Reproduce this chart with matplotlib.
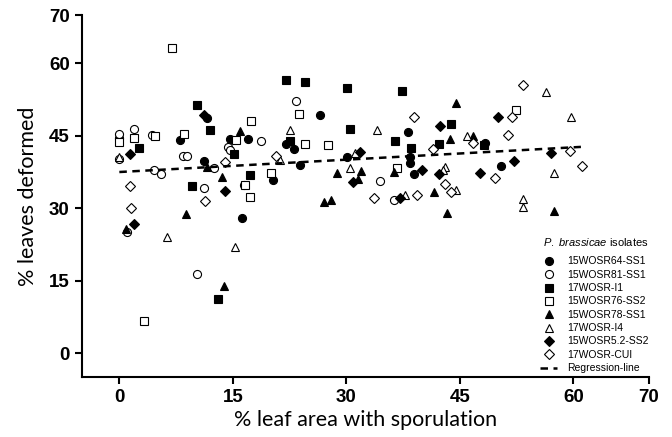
import matplotlib.pyplot as plt

plt.rcParams['mathtext.fontset'] = 'custom'
plt.rcParams['mathtext.it'] = 'Liberation Sans:italic'
plt.rcParams['mathtext.rm'] = 'Liberation Sans'

# values (x = % leaf area with sporulation, y = % leaves deformed)
ss64_x = [0, 8.0, 11.6, 14.6, 17.0, 22.0, 23.1, 11.2, 20.3, 16.2, 26.5, 38.1, 23.9, 30.1, 38.4, 38.4, 39.0, 48.3, 50.4]
ss64_y = [44.5, 44.1, 48.6, 44.3, 44.3, 43.4, 42.2, 39.8, 35.8, 27.9, 49.3, 45.7, 39.0, 40.7, 40.6, 39.4, 37.1, 43.5, 38.8]

ss81_x = [0, 0, 1.9, 4.3, 18.7, 14.4, 14.6, 8.4, 9.0, 4.6, 5.5, 12.5, 11.2, 16.5, 1.0, 10.2, 23.4, 34.4, 36.3]
ss81_y = [45.3, 40.1, 46.5, 45.1, 44.0, 42.7, 42.0, 40.8, 40.8, 37.9, 37.0, 38.4, 34.1, 34.8, 25.0, 16.4, 52.2, 35.7, 31.7]

i1_x = [10.3, 12.0, 22.0, 15.2, 2.6, 17.3, 9.6, 13.0, 24.6, 30.1, 37.4, 30.5, 43.8, 22.6, 36.4, 42.3, 38.6, 48.2]
i1_y = [51.3, 46.2, 56.5, 41.3, 42.4, 36.9, 34.6, 11.3, 56.2, 54.9, 54.3, 46.5, 47.4, 44.0, 44.0, 43.4, 42.4, 43.1]

ss76_x = [7.0, 17.4, 0, 1.9, 4.7, 8.5, 15.4, 20.1, 16.6, 17.3, 3.2, 23.7, 24.6, 27.6, 36.7, 52.4]
ss76_y = [63.1, 48.0, 43.7, 44.6, 44.9, 45.3, 44.1, 37.4, 34.8, 32.4, 6.6, 49.6, 43.4, 43.1, 38.4, 50.3]

ss78_x = [16.0, 11.6, 13.6, 8.8, 0.9, 13.8, 44.5, 43.7, 28.8, 31.9, 36.3, 31.5, 41.6, 27.1, 28.0, 43.3, 46.7, 57.5]
ss78_y = [46.0, 38.6, 36.5, 28.9, 25.6, 13.9, 51.7, 44.4, 37.3, 37.7, 37.5, 36.1, 33.4, 31.2, 31.7, 29.0, 44.9, 29.5]

i4_x = [0, 21.2, 22.6, 6.3, 15.3, 34.1, 31.1, 30.5, 43.1, 42.8, 37.8, 44.5, 56.4, 59.7, 46.0, 57.5, 53.4, 53.4]
i4_y = [40.6, 40.0, 46.3, 24.1, 21.9, 46.3, 41.4, 38.4, 38.6, 37.9, 32.7, 33.7, 54.1, 48.9, 44.9, 37.4, 31.9, 30.2]

ss52_x = [11.2, 1.4, 13.9, 1.9, 42.4, 31.8, 40.0, 42.3, 30.9, 37.1, 50.0, 57.1, 52.1, 47.6]
ss52_y = [49.4, 41.3, 33.6, 26.8, 47.0, 41.7, 38.0, 37.1, 35.5, 32.2, 48.9, 41.5, 39.8, 37.4]

cui_x = [13.9, 20.7, 1.4, 11.3, 1.6, 39.0, 41.4, 43.1, 43.8, 33.6, 39.4, 53.4, 51.9, 51.4, 46.7, 59.5, 61.2, 49.6]
cui_y = [39.5, 40.8, 34.6, 31.5, 30.0, 48.9, 42.2, 35.1, 33.3, 32.2, 32.7, 55.6, 48.9, 45.1, 43.5, 41.8, 38.8, 36.3]

reg_x = [0, 61]
reg_y = [37.5, 42.7]

ticks = [0, 15, 30, 45, 60, 70]

fig = plt.figure(figsize=(6.72, 4.37), dpi=100)
ax = fig.add_axes([0.1213, 0.1366, 0.8445, 0.829])

series = [
    (ss64_x, ss64_y, 'o', True, '15WOSR64-SS1', 5.8),
    (ss81_x, ss81_y, 'o', False, '15WOSR81-SS1', 5.8),
    (i1_x, i1_y, 's', True, '17WOSR-I1', 5.4),
    (ss76_x, ss76_y, 's', False, '15WOSR76-SS2', 5.4),
    (ss78_x, ss78_y, '^', True, '15WOSR78-SS1', 6.0),
    (i4_x, i4_y, '^', False, '17WOSR-I4', 6.0),
    (ss52_x, ss52_y, 'D', True, '15WOSR5.2-SS2', 4.8),
    (cui_x, cui_y, 'D', False, '17WOSR-CUI', 4.8),
]
for xs, ys, m, filled, name, ms in series:
    ax.plot(xs, ys, linestyle='none', marker=m, markersize=ms,
            markerfacecolor='black' if filled else 'white',
            markeredgecolor='black', markeredgewidth=0.8, label=name)

ax.plot(reg_x, reg_y, color='black', linestyle=(0, (3, 2.2)), linewidth=1.8,
        label='Regression-line', zorder=5)

ax.set_xlim(-5, 70)
ax.set_ylim(-5, 70)
ax.set_xticks(ticks)
ax.set_yticks(ticks)
for side in ['top', 'right']:
    ax.spines[side].set_visible(False)
for side in ['left', 'bottom']:
    ax.spines[side].set_linewidth(1.5)
ax.tick_params(width=1.5, length=5, labelsize=13.5)
for lbl in ax.get_xticklabels() + ax.get_yticklabels():
    lbl.set_fontweight('bold')
    lbl.set_family('Liberation Sans')

ax.set_xlabel('% leaf area with sporulation', family='Lato', fontsize=15.5, labelpad=3)
ax.set_ylabel('% leaves deformed', family='Lato', fontsize=15.5, labelpad=8)

leg = ax.legend(loc='upper right', bbox_to_anchor=(0.967, 0.462), bbox_transform=fig.transFigure,
                frameon=False, prop={'family': 'Liberation Sans', 'size': 7.5},
                title=r'$\it{P.\ brassicae}$ isolates', title_fontproperties={'family': 'Liberation Sans', 'size': 8},
                handlelength=1.6, handletextpad=1.0, labelspacing=0.32, borderpad=0.1, borderaxespad=0)
leg._legend_box.align = 'right'
leg._legend_box.sep = 6

fig.savefig('out.png', dpi=100)
